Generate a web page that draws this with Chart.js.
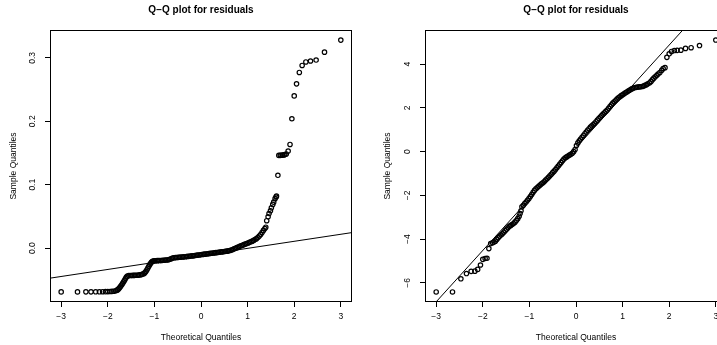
<!DOCTYPE html>
<html>
<head>
<meta charset="utf-8">
<script src="https://cdn.jsdelivr.net/npm/chart.js@4.4.1/dist/chart.umd.min.js"></script>
<style>
    html, body { margin: 0; padding: 0; background: #fff; overflow: hidden; }
    body { width: 717px; height: 345px; position: relative; }
    .box { position: absolute; top: 0; height: 345px; }
    #left { left: 0; width: 358px; }
    #right { left: 358px; width: 375px; }
</style>
</head>
<body>
<div class="box" id="left"><canvas id="chart1"></canvas></div>
<div class="box" id="right"><canvas id="chart2"></canvas></div>
<script>
// theoretical quantiles / sample quantiles
const leftTheo = [
    -3.00, -2.65, -2.47, -2.36, -2.26, -2.18, -2.11, -2.05, -2.00, -1.95, -1.91, -1.87, -1.83,
    -1.80, -1.78, -1.76, -1.74, -1.72, -1.70, -1.68, -1.66, -1.64, -1.62, -1.60, -1.58,
    -1.55, -1.52, -1.49, -1.46, -1.43, -1.40, -1.37, -1.34, -1.31, -1.28, -1.25,
    -1.22, -1.20, -1.18, -1.16, -1.14, -1.12, -1.10, -1.08, -1.06, -1.04, -1.02,
    -1.00, -0.97, -0.94, -0.91, -0.88, -0.85, -0.82, -0.79, -0.76, -0.73,
    -0.70, -0.67, -0.64, -0.61, -0.58, -0.55, -0.52, -0.49, -0.46, -0.43,
    -0.40, -0.37, -0.34, -0.31, -0.28, -0.25, -0.22, -0.19, -0.16, -0.13,
    -0.10, -0.07, -0.04, -0.01,
    0.02, 0.05, 0.08, 0.11, 0.14, 0.17, 0.20, 0.23, 0.26, 0.29,
    0.32, 0.35, 0.38, 0.41, 0.44, 0.47, 0.50, 0.53, 0.56, 0.59,
    0.62, 0.65, 0.68, 0.71, 0.74, 0.77, 0.80, 0.83, 0.86, 0.89,
    0.92, 0.95, 0.98, 1.01, 1.04, 1.07, 1.10, 1.13, 1.16, 1.19,
    1.22, 1.25, 1.28, 1.31, 1.34, 1.37, 1.39,
    1.41, 1.44, 1.46, 1.49, 1.51, 1.54, 1.56, 1.59, 1.61, 1.62,
    1.65, 1.67, 1.70, 1.72, 1.75, 1.78, 1.80, 1.83,
    1.87, 1.91, 1.95, 2.00, 2.05, 2.11, 2.17, 2.25, 2.35, 2.47, 2.65, 3.00
]
const leftSample = [
    -0.0690, -0.0690, -0.0689, -0.0689, -0.0688, -0.0688, -0.0687, -0.0686, -0.0685, -0.0684, -0.0682, -0.0679, -0.0672,
    -0.0662, -0.0650, -0.0635, -0.0617, -0.0597, -0.0577, -0.0555, -0.0530, -0.0505, -0.0478, -0.0455, -0.0440,
    -0.0433, -0.0432, -0.0431, -0.0430, -0.0429, -0.0428, -0.0427, -0.0425, -0.0422, -0.0417, -0.0410,
    -0.0398, -0.0385, -0.0366, -0.0342, -0.0314, -0.0286, -0.0260, -0.0237, -0.0219, -0.0208, -0.0202,
    -0.0199, -0.0198, -0.0197, -0.0196, -0.0195, -0.0194, -0.0192, -0.0190, -0.0188, -0.0186,
    -0.0183, -0.0176, -0.0166, -0.0157, -0.0151, -0.0149, -0.0147, -0.0145, -0.0143, -0.0141,
    -0.0139, -0.0137, -0.0135, -0.0133, -0.0130, -0.0128, -0.0125, -0.0122, -0.0119, -0.0116,
    -0.0113, -0.0110, -0.0107, -0.0104,
    -0.0101, -0.0098, -0.0095, -0.0092, -0.0089, -0.0086, -0.0083, -0.0080, -0.0077, -0.0074,
    -0.0071, -0.0068, -0.0065, -0.0062, -0.0059, -0.0056, -0.0053, -0.0050, -0.0047, -0.0043,
    -0.0038, -0.0031, -0.0022, -0.0012, -0.0002, 0.0008, 0.0018, 0.0028, 0.0037, 0.0046,
    0.0055, 0.0064, 0.0073, 0.0082, 0.0091, 0.0100, 0.0110, 0.0122, 0.0135, 0.0150,
    0.0168, 0.0190, 0.0215, 0.0245, 0.0280, 0.0310, 0.0330,
    0.0433, 0.0495, 0.0545, 0.0590, 0.0635, 0.0690, 0.0725, 0.0780, 0.0805, 0.0820,
    0.1148, 0.1462, 0.1463, 0.1465, 0.1467, 0.1470, 0.1475, 0.1485,
    0.1530, 0.1635, 0.2040, 0.2400, 0.2590, 0.2770, 0.2880, 0.2935, 0.2950, 0.2965, 0.3090, 0.3280
]

const rightTheo = [
    -3.00, -2.65, -2.47, -2.35, -2.25, -2.17, -2.11, -2.05, -2.00, -1.95, -1.91, -1.87,
    -1.83, -1.79, -1.76, -1.73, -1.70, -1.67, -1.64, -1.61, -1.58, -1.55,
    -1.52, -1.49, -1.46, -1.43, -1.40, -1.37, -1.34, -1.31, -1.28, -1.25, -1.22, -1.20, -1.18,
    -1.16, -1.13, -1.10, -1.07, -1.04, -1.01, -0.98, -0.95, -0.92, -0.89,
    -0.86, -0.83, -0.80, -0.77, -0.74, -0.71, -0.68, -0.65, -0.62, -0.59,
    -0.56, -0.53, -0.50, -0.47, -0.44, -0.41, -0.38, -0.35, -0.32, -0.29,
    -0.26, -0.23, -0.20, -0.17, -0.14, -0.11, -0.08, -0.05, -0.02,
    0.01, 0.04, 0.07, 0.10, 0.13, 0.16, 0.19, 0.22, 0.25, 0.28,
    0.31, 0.34, 0.37, 0.40, 0.43, 0.46, 0.49, 0.52, 0.55, 0.58,
    0.61, 0.64, 0.67, 0.70, 0.73, 0.76, 0.79, 0.82, 0.85, 0.88,
    0.91, 0.94, 0.97, 1.00, 1.03, 1.06, 1.09, 1.12, 1.15, 1.18,
    1.21, 1.24, 1.27, 1.30, 1.33, 1.36, 1.39, 1.42, 1.45, 1.48,
    1.51, 1.54,
    1.58, 1.61, 1.64, 1.67, 1.70, 1.73, 1.76, 1.80, 1.84, 1.87, 1.91,
    1.95, 2.00, 2.05, 2.11, 2.17, 2.25, 2.35, 2.47, 2.65, 3.00
]
const rightSample = [
    -6.41, -6.41, -5.81, -5.57, -5.47, -5.46, -5.38, -5.18, -4.92, -4.88, -4.87, -4.43,
    -4.20, -4.16, -4.13, -4.09, -4.01, -3.93, -3.87, -3.81, -3.75, -3.68,
    -3.61, -3.55, -3.48, -3.41, -3.37, -3.33, -3.28, -3.22, -3.15, -3.06, -2.95, -2.83, -2.70,
    -2.52, -2.45, -2.37, -2.30, -2.22, -2.14, -2.05, -1.96, -1.86, -1.77,
    -1.70, -1.64, -1.58, -1.52, -1.47, -1.42, -1.36, -1.30, -1.24, -1.17,
    -1.10, -1.03, -0.96, -0.89, -0.82, -0.74, -0.66, -0.58, -0.50, -0.42,
    -0.34, -0.28, -0.24, -0.20, -0.16, -0.12, -0.07, 0.00, 0.10,
    0.28, 0.40, 0.50, 0.58, 0.66, 0.74, 0.82, 0.90, 0.98, 1.05,
    1.12, 1.18, 1.24, 1.30, 1.37, 1.44, 1.51, 1.58, 1.65, 1.72,
    1.78, 1.84, 1.90, 1.98, 2.06, 2.14, 2.22, 2.28, 2.34, 2.40,
    2.46, 2.51, 2.56, 2.60, 2.65, 2.69, 2.73, 2.77, 2.81, 2.85,
    2.88, 2.91, 2.93, 2.94, 2.95, 2.96, 2.97, 2.98, 3.00, 3.03,
    3.06, 3.10,
    3.15, 3.21, 3.29, 3.36, 3.42, 3.48, 3.55, 3.62, 3.72, 3.80, 3.84,
    4.31, 4.47, 4.58, 4.62, 4.63, 4.64, 4.72, 4.75, 4.85, 5.10
]

// qqline end points (drawn past the frame, clipped)
const leftLineX = [-3.4, 3.4]
const leftLineY = [-0.0491, 0.0263]
const rightLineX = [-3.4, 3.4]
const rightLineY = [-7.80, 8.16]

const xTicks = [-3, -2, -1, 0, 1, 2, 3]
const leftYTicks = [0.0, 0.1, 0.2, 0.3]
const rightYTicks = [-6, -4, -2, 0, 2, 4]

const titleText = 'Q\u2212Q plot for residuals'
const xTitle = 'Theoretical Quantiles'
const yTitle = 'Sample Quantiles'


Chart.defaults.font.family = "'Liberation Sans', Arial, Helvetica, sans-serif"
Chart.defaults.color = '#000'

const frame = {
    id: 'frame',
    afterDatasetsDraw(chart) {
        const {ctx, chartArea: a} = chart
        ctx.save()
        ctx.strokeStyle = '#000'
        ctx.lineWidth = 1
        ctx.strokeRect(Math.round(a.left) + 0.5, Math.round(a.top) + 0.5,
            Math.round(a.right - a.left) - 1, Math.round(a.bottom - a.top) - 1)
        ctx.restore()
    }
}

function minus(v) {
    return v < 0 ? '\u2212' + Math.abs(v) : String(v)
}

function toPoints(xs, ys) {
    return xs.map((x, i) => ({x, y: ys[i]}))
}

function printQQChart(id, theo, sample, lineX, lineY, yRange, yTicks, yFormat, yTitlePad, yTickPad, yWidth) {
    const data = {
        datasets: [{
            type: 'line',
            data: toPoints(lineX, lineY),
            borderColor: '#000',
            borderWidth: 1,
            pointRadius: 0,
            fill: false
        }, {
            type: 'scatter',
            data: toPoints(theo, sample),
            borderColor: '#000',
            backgroundColor: 'rgba(0,0,0,0)',
            borderWidth: 1.2,
            pointRadius: 2.2,
            clip: false
        }]
    }

    let options = {
        responsive: true,
        maintainAspectRatio: false,
        animation: false,
        events: [],
        layout: { padding: { left: 0, right: 6, top: 0, bottom: 0 } },
        plugins: {
            legend: { display: false },
            tooltip: { enabled: false },
            title: {
                display: true,
                text: titleText,
                fullSize: false,
                font: { size: 10, weight: 'bold' },
                padding: { top: 4, bottom: 14 }
            }
        },
        scales: {
            x: {
                type: 'linear',
                min: -3.24,
                max: 3.24,
                afterBuildTicks: s => { s.ticks = xTicks.map(v => ({value: v})) },
                afterFit: s => { s.height = 43 },
                ticks: { callback: minus, font: { size: 8.5 }, padding: 4.5, maxRotation: 0 },
                grid: { drawOnChartArea: false, tickLength: 5, color: '#000' },
                border: { display: false },
                title: { display: true, text: xTitle, font: { size: 8.5 }, padding: { top: 0, bottom: 2 } }
            },
            y: {
                type: 'linear',
                min: yRange[0],
                max: yRange[1],
                afterBuildTicks: s => { s.ticks = yTicks.map(v => ({value: v})) },
                afterFit: s => { s.width = yWidth },
                ticks: { callback: yFormat, font: { size: 8.5 }, padding: yTickPad,
                    minRotation: 90, maxRotation: 90, crossAlign: 'center' },
                grid: { drawOnChartArea: false, tickLength: 5, color: '#000' },
                border: { display: false },
                title: { display: true, text: yTitle, font: { size: 8.5 }, padding: { top: yTitlePad, bottom: 0 } }
            }
        }
    }

    new Chart(id, { data, options, plugins: [frame] })
}

printQQChart('chart1', leftTheo, leftSample, leftLineX, leftLineY,
    [-0.0849, 0.3439], leftYTicks, v => v.toFixed(1), 8.2, 6.1, 50)

printQQChart('chart2', rightTheo, rightSample, rightLineX, rightLineY,
    [-6.87, 5.56], rightYTicks, minus, 24.9, 7.1, 67)
</script>
</body>
</html>
